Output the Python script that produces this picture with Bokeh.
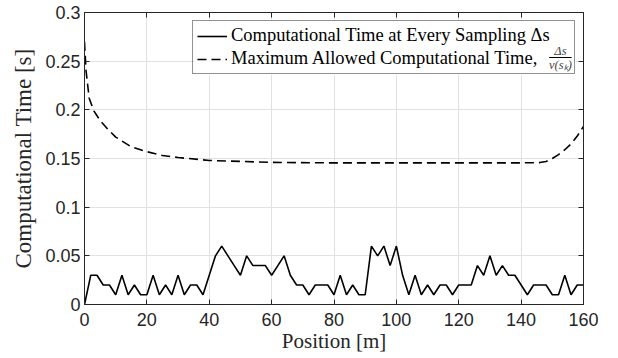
from bokeh.plotting import figure
from bokeh.models import (Range1d, LinearAxis, FixedTicker, Legend, LegendItem,
                          Label, BoxAnnotation)
from bokeh.embed import file_html
from bokeh.resources import INLINE

# ---------------- data ----------------
position = [0, 2, 4, 6, 8, 10, 12, 14, 16, 18, 20, 22, 24, 26, 28, 30, 32, 34, 36, 38,
            40, 42, 44, 46, 48, 50, 52, 54, 56, 58, 60, 62, 64, 66, 68, 70, 72, 74, 76, 78,
            80, 82, 84, 86, 88, 90, 92, 94, 96, 98, 100, 102, 104, 106, 108, 110, 112, 114,
            116, 118, 120, 122, 124, 126, 128, 130, 132, 134, 136, 138, 140, 142, 144, 146,
            148, 150, 152, 154, 156, 158, 160]
comp_time = [0.00, 0.03, 0.03, 0.02, 0.02, 0.01, 0.03, 0.01, 0.02, 0.01, 0.01, 0.03, 0.01,
             0.02, 0.01, 0.03, 0.01, 0.02, 0.02, 0.01, 0.03, 0.05, 0.06, 0.05, 0.04, 0.03,
             0.05, 0.04, 0.04, 0.04, 0.03, 0.04, 0.05, 0.03, 0.02, 0.02, 0.01, 0.02, 0.02,
             0.02, 0.01, 0.03, 0.01, 0.02, 0.01, 0.01, 0.06, 0.05, 0.06, 0.04, 0.06, 0.03,
             0.01, 0.03, 0.01, 0.02, 0.01, 0.02, 0.02, 0.01, 0.02, 0.02, 0.02, 0.04, 0.03,
             0.05, 0.03, 0.04, 0.03, 0.03, 0.02, 0.01, 0.02, 0.02, 0.02, 0.01, 0.01, 0.03,
             0.01, 0.02, 0.02]

max_pos = [0, 0.5, 1.5, 3, 5, 7.5, 10, 15, 20, 25, 30, 40, 50, 60, 80, 100, 120, 140,
           146, 148, 150, 152, 154, 156, 158, 160]
max_time = [0.27, 0.24, 0.212, 0.199, 0.189, 0.18, 0.172, 0.162, 0.157, 0.153, 0.151,
            0.148, 0.147, 0.146, 0.1455, 0.1455, 0.1455, 0.1455, 0.1458, 0.147, 0.150,
            0.154, 0.159, 0.165, 0.173, 0.183]

x_ticks = [0, 20, 40, 60, 80, 100, 120, 140, 160]
y_ticks = [0, 0.05, 0.1, 0.15, 0.2, 0.25, 0.3]
y_tick_labels = ["0", "0.05", "0.1", "0.15", "0.2", "0.25", "0.3"]

label_solid = "Computational Time at Every Sampling \u0394s"
label_dashed = "Maximum Allowed Computational Time,"
frac_num = "\u0394s"
frac_den = "v(s\u2096)"

AX = "#262626"
SERIF = "Liberation Serif"
SANS = "Liberation Sans"

p = figure(width=618, height=358, x_range=Range1d(0, 160), y_range=Range1d(0, 0.3),
           output_backend="svg", toolbar_location=None,
           min_border_left=84, min_border_right=35, min_border_top=12, min_border_bottom=54)
p.outline_line_color = AX
p.outline_line_width = 1
p.background_fill_color = "white"
p.border_fill_color = "white"

# white backing for the legend area (above the grid, below the legend)
p.add_layout(BoxAnnotation(left=35.2, right=157.5, bottom=0.2360, top=0.2920,
                           level="underlay", fill_color="white", fill_alpha=1,
                           line_color=None))

r1 = p.line(position, comp_time, line_color="black", line_width=1.6)
r2 = p.line(max_pos, max_time, line_color="black", line_width=1.6, line_dash="9 5")


def style_axis(ax, ticks, show_labels=True):
    ax.ticker = FixedTicker(ticks=ticks)
    ax.major_tick_in = 5
    ax.major_tick_out = 0
    ax.minor_tick_line_color = None
    ax.major_tick_line_color = AX
    ax.axis_line_color = AX
    ax.major_label_text_font = SANS
    ax.major_label_text_color = AX
    ax.major_label_text_font_size = "18px"
    if not show_labels:
        ax.major_label_text_color = None
        ax.major_label_text_font_size = "1px"
        ax.major_label_standoff = 0


xa = p.xaxis[0]
ya = p.yaxis[0]
style_axis(xa, x_ticks)
style_axis(ya, y_ticks)
ya.major_label_overrides = {t: s for t, s in zip(y_ticks, y_tick_labels)}
xa.major_label_standoff = 8
ya.major_label_standoff = 4

xa.axis_label = "Position [m]"
xa.axis_label_text_font = SERIF
xa.axis_label_text_font_style = "normal"
xa.axis_label_text_font_size = "21px"
xa.axis_label_text_color = AX
xa.axis_label_standoff = 0

ya.axis_label = "Computational Time [s]"
ya.axis_label_text_font = SERIF
ya.axis_label_text_font_style = "normal"
ya.axis_label_text_font_size = "23px"
ya.axis_label_text_color = AX
ya.axis_label_standoff = 6

top_ax = LinearAxis()
right_ax = LinearAxis()
p.add_layout(top_ax, "above")
p.add_layout(right_ax, "right")
style_axis(top_ax, x_ticks, show_labels=False)
style_axis(right_ax, y_ticks, show_labels=False)

p.xgrid.ticker = FixedTicker(ticks=x_ticks)
p.ygrid.ticker = FixedTicker(ticks=y_ticks)
p.grid.grid_line_color = "#e1e1e1"
p.grid.grid_line_width = 1

legend = Legend(items=[LegendItem(label=label_solid, renderers=[r1]),
                       LegendItem(label=label_dashed, renderers=[r2])],
                location="top_right")
legend.margin = 8
legend.padding = 4
legend.spacing = 2
legend.glyph_width = 30
legend.glyph_height = 20
legend.label_height = 20
legend.label_width = 339
legend.label_standoff = 4
legend.label_text_font = SERIF
legend.label_text_font_size = "18.5px"
legend.label_text_color = "black"
legend.border_line_color = AX
legend.border_line_width = 1
legend.background_fill_alpha = 0
p.add_layout(legend)

# small stacked fraction after the second legend label (placed in data units)
frac_x = 152.6
p.add_layout(Label(x=frac_x, y=0.2603, text=frac_num, level="overlay",
                   text_font=SERIF, text_font_size="12.5px", text_font_style="italic",
                   text_align="center", text_baseline="middle"))
p.add_layout(BoxAnnotation(left=149.0, right=156.2, bottom=0.2532, top=0.2542,
                           level="overlay",
                           fill_color="black", fill_alpha=1, line_color=None))
p.add_layout(Label(x=frac_x, y=0.2462, text=frac_den, level="overlay",
                   text_font=SERIF, text_font_size="12.5px", text_font_style="italic",
                   text_align="center", text_baseline="middle"))

open("out.html", "w").write(file_html(p, INLINE))
